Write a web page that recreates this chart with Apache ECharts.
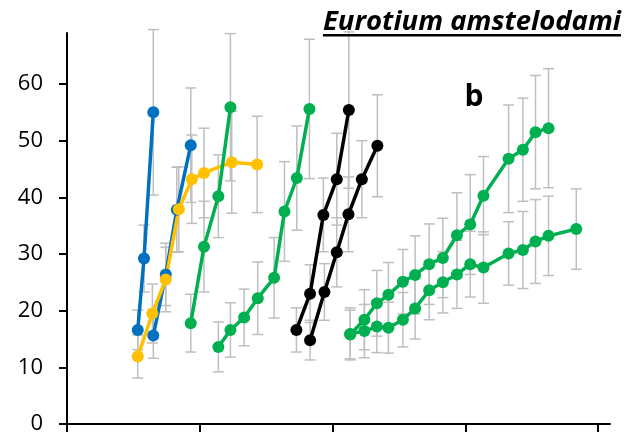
<!DOCTYPE html>
<html>
<head>
<meta charset="utf-8">
<script src="https://cdn.jsdelivr.net/npm/echarts@6/dist/echarts.min.js"></script>
<style>
  html, body { margin: 0; padding: 0; background: #ffffff; }
  #chart { width: 639px; height: 439px; }
</style>
</head>
<body>
<div id="chart"></div>
<script>
// Axis ticks
const xTicks = [0, 10, 20, 30, 40];
const yTicks = [0, 10, 20, 30, 40, 50, 60];

// Series values: x position, mean, error (± half-width)
const blue1X = [5.33, 5.80, 6.50];
const blue1Y = [16.6, 29.2, 55.0];
const blue1Err = [3.5, 5.9, 14.6];

const blue2X = [6.50, 7.44, 8.27, 9.32];
const blue2Y = [15.6, 26.4, 37.8, 49.2];
const blue2Err = [4.0, 5.5, 7.5, 10.1];

const yellowX = [5.33, 6.43, 7.44, 8.42, 9.40, 10.32, 12.41, 14.32];
const yellowY = [11.9, 19.5, 25.5, 37.9, 43.2, 44.3, 46.2, 45.8];
const yellowErr = [3.8, 5.2, 5.7, 7.5, 7.8, 7.9, 9.0, 8.5];

const green1X = [9.32, 10.32, 11.40, 12.31];
const green1Y = [17.8, 31.3, 40.2, 55.9];
const green1Err = [5.1, 8.0, 7.3, 13.0];

const green2X = [11.40, 12.31, 13.34, 14.37, 15.60, 16.38, 17.31, 18.26];
const green2Y = [13.6, 16.6, 18.8, 22.2, 25.8, 37.5, 43.4, 55.6];
const green2Err = [4.4, 4.8, 5.0, 6.4, 7.1, 8.8, 9.2, 12.3];

const black1X = [17.28, 18.31, 19.31, 20.32, 21.23];
const black1Y = [16.6, 23.0, 36.9, 43.2, 55.4];
const black1Err = [3.9, 5.1, 6.5, 8.1, 13.8];

const black2X = [18.31, 19.39, 20.32, 21.20, 22.21, 23.38];
const black2Y = [14.8, 23.3, 30.3, 37.0, 43.2, 49.1];
const black2Err = [3.5, 5.0, 6.1, 6.6, 6.8, 9.0];

const green3X = [21.33, 22.40, 23.34, 24.21, 25.30, 26.22, 27.28, 28.31, 29.37, 30.37, 31.37, 33.26, 34.34, 35.29, 36.27];
const green3Y = [15.8, 18.4, 21.3, 22.8, 25.1, 26.3, 28.2, 29.3, 33.3, 35.2, 40.3, 46.8, 48.4, 51.5, 52.2];
const green3Err = [4.3, 5.3, 5.8, 5.7, 5.7, 6.9, 7.1, 7.0, 7.5, 8.8, 6.9, 9.5, 9.1, 10.0, 10.5];

const green4X = [21.33, 22.40, 23.34, 24.21, 25.30, 26.22, 27.28, 28.31, 29.37, 30.37, 31.37, 33.26, 34.34, 35.29, 36.27, 38.36];
const green4Y = [15.9, 16.4, 17.2, 17.0, 18.4, 20.4, 23.6, 25.0, 26.4, 28.2, 27.6, 30.1, 30.7, 32.2, 33.2, 34.4];
const green4Err = [4.6, 4.7, 4.6, 4.5, 4.8, 5.4, 5.2, 5.4, 6.0, 5.8, 6.3, 5.6, 6.8, 7.4, 7.0, 7.1];

const titleText = 'Eurotium amstelodami';
const panelLabel = 'b';

// Colours
const BLUE = '#0070C0', YELLOW = '#FFC000', GREEN = '#00B050', BLACK = '#000000';
const ERR_COLOR = '#BFBFBF';

const groups = [
  { name: 'blue1', x: blue1X, y: blue1Y, err: blue1Err, color: BLUE },
  { name: 'blue2', x: blue2X, y: blue2Y, err: blue2Err, color: BLUE },
  { name: 'yellow', x: yellowX, y: yellowY, err: yellowErr, color: YELLOW },
  { name: 'green1', x: green1X, y: green1Y, err: green1Err, color: GREEN },
  { name: 'green2', x: green2X, y: green2Y, err: green2Err, color: GREEN },
  { name: 'black1', x: black1X, y: black1Y, err: black1Err, color: BLACK },
  { name: 'black2', x: black2X, y: black2Y, err: black2Err, color: BLACK },
  { name: 'green3', x: green3X, y: green3Y, err: green3Err, color: GREEN },
  { name: 'green4', x: green4X, y: green4Y, err: green4Err, color: GREEN }
];

// Error bar rows: [x, low, high]
const errRows = [];
groups.forEach(g => g.x.forEach((x, i) => errRows.push([x, g.y[i] - g.err[i], g.y[i] + g.err[i]])));

const series = [{
  type: 'custom',
  name: 'errors',
  z: 1,
  clip: false,
  silent: true,
  data: errRows,
  encode: { x: 0, y: [1, 2] },
  renderItem: function (params, api) {
    const x = api.value(0);
    const lo = api.coord([x, api.value(1)]);
    const hi = api.coord([x, api.value(2)]);
    const w = 5.5;
    const st = { stroke: ERR_COLOR, lineWidth: 1.5 };
    return {
      type: 'group',
      children: [
        { type: 'line', shape: { x1: lo[0], y1: lo[1], x2: hi[0], y2: hi[1] }, style: st },
        { type: 'line', shape: { x1: lo[0] - w, y1: lo[1], x2: lo[0] + w, y2: lo[1] }, style: st },
        { type: 'line', shape: { x1: hi[0] - w, y1: hi[1], x2: hi[0] + w, y2: hi[1] }, style: st }
      ]
    };
  }
}];

groups.forEach(g => {
  series.push({
    type: 'line',
    name: g.name,
    z: 3,
    data: g.x.map((x, i) => [x, g.y[i]]),
    symbol: 'circle',
    symbolSize: 12,
    showSymbol: true,
    lineStyle: { color: g.color, width: 3.5 },
    itemStyle: { color: g.color },
    emphasis: { disabled: true }
  });
});

// Title width for the underline
const TITLE_FONT = 'italic bold 27.5px "Open Sans"';
const ctx = document.createElement('canvas').getContext('2d');
ctx.font = TITLE_FONT;
const titleW = ctx.measureText(titleText).width;
const titleRight = 621;

const chart = echarts.init(document.getElementById('chart'), null, { renderer: 'canvas' });
chart.setOption({
  animation: false,
  backgroundColor: '#ffffff',
  grid: { left: 67, right: 29, top: 33, bottom: 15, containLabel: false },
  xAxis: {
    type: 'value',
    min: 0,
    max: 40.9,
    axisLine: { show: true, onZero: false, lineStyle: { color: '#000', width: 2 } },
    axisTick: { show: true, customValues: xTicks, length: 8, lineStyle: { color: '#000', width: 2 } },
    axisLabel: { show: false },
    splitLine: { show: false }
  },
  yAxis: {
    type: 'value',
    min: 0,
    max: 69,
    interval: 10,
    axisLine: { show: true, lineStyle: { color: '#000', width: 2 } },
    axisTick: { show: true, customValues: yTicks, length: 8, lineStyle: { color: '#000', width: 2 } },
    axisLabel: {
      customValues: yTicks,
      margin: 24,
      color: '#000',
      fontSize: 22,
      fontFamily: 'Open Sans'
    },
    splitLine: { show: false }
  },
  graphic: [
    {
      type: 'text',
      z: 10,
      style: {
        text: titleText,
        x: titleRight,
        y: 22.5,
        textAlign: 'right',
        textVerticalAlign: 'middle',
        font: TITLE_FONT,
        fill: '#000'
      }
    },
    {
      type: 'rect',
      z: 10,
      shape: { x: titleRight - titleW, y: 34, width: titleW, height: 2.5 },
      style: { fill: '#000' }
    },
    {
      type: 'text',
      z: 10,
      style: {
        text: panelLabel,
        x: 474,
        y: 97,
        textAlign: 'center',
        textVerticalAlign: 'middle',
        font: 'bold 30px "Open Sans"',
        fill: '#000'
      }
    }
  ],
  series: series
});
</script>
</body>
</html>
